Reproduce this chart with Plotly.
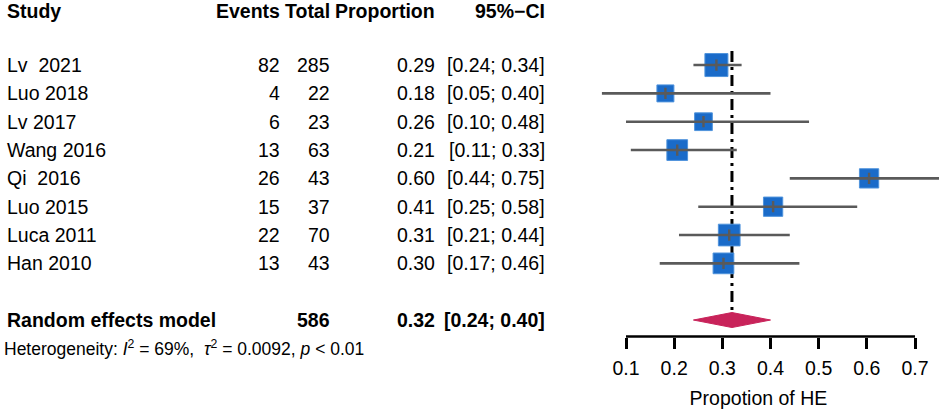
import plotly.graph_objects as go

# study data
studies = ["Lv\u00a0 2021", "Luo 2018", "Lv 2017", "Wang 2016", "Qi\u00a0 2016",
           "Luo 2015", "Luca 2011", "Han 2010"]
events = [82, 4, 6, 13, 26, 15, 22, 13]
totals = [285, 22, 23, 63, 43, 37, 70, 43]
props = [0.29, 0.18, 0.26, 0.21, 0.60, 0.41, 0.31, 0.30]
lower = [0.24, 0.05, 0.10, 0.11, 0.44, 0.25, 0.21, 0.17]
upper = [0.34, 0.40, 0.48, 0.33, 0.75, 0.58, 0.44, 0.46]
weights = [16.5, 9.0, 9.8, 13.4, 11.6, 11.6, 14.7, 13.4]  # % random-effects weight

pooled = 0.32
pooled_lower = 0.24
pooled_upper = 0.40
pooled_total = 586
heterogeneity = "Heterogeneity: <i>I</i><sup>2</sup> = 69%,\u00a0 <i>\u03c4</i><sup>2</sup> = 0.0092, <i>p</i> < 0.01"

tick_vals = [0.1, 0.2, 0.3, 0.4, 0.5, 0.6, 0.7]
x_title = "Propotion of HE"

# layout in pixels
W, H = 941, 409
X01, X07 = 626, 915           # pixel of 0.1 and 0.7
ppu = (X07 - X01) / 0.6
xr = [0.0, 0.75]
dom = [(X01 + (xr[0] - 0.1) * ppu) / W, (X01 + (xr[1] - 0.1) * ppu) / W]

ROW0, ROWH = 8.4, 28.33       # pixel centre of row 0 and row height
yr = [(H - ROW0) / ROWH, -ROW0 / ROWH]
axis_px = 336.5
axis_pos = 1 - axis_px / H

head_row = 0.1
rows = [2 + i for i in range(len(studies))]
sum_row = 11
het_row = 12

FONT = "Arial, Liberation Sans, sans-serif"
FS = 19.5

# column right edges (px)
col_study = 5
col_events = 282
col_total = 331.5
col_prop = 437
col_ci = 547

est = [e / t for e, t in zip(events, totals)]

fig = go.Figure()

# reference line at the pooled estimate
fig.add_trace(go.Scatter(
    x=[pooled, pooled], y=[1.5, sum_row], mode="lines",
    line=dict(color="black", width=3, dash="11px,5px,3px,5px"),
    hoverinfo="skip", showlegend=False))

# study squares
fig.add_trace(go.Scatter(
    x=est, y=rows, mode="markers",
    marker=dict(symbol="square", size=[5.66 * w ** 0.5 for w in weights], opacity=1,
                color="#1a6bc9", line=dict(color="#4f93dc", width=1)),
    showlegend=False))

# confidence intervals
ci_x, ci_y = [], []
for lo, hi, r in zip(lower, upper, rows):
    ci_x += [lo, hi, None]
    ci_y += [r, r, None]
fig.add_trace(go.Scatter(
    x=ci_x, y=ci_y, mode="lines", line=dict(color="#5a5a5a", width=2.6),
    hoverinfo="skip", showlegend=False))

# small tick at point estimate
fig.add_trace(go.Scatter(
    x=est, y=rows, mode="markers",
    marker=dict(symbol="line-ns", size=8, opacity=1, line=dict(color="#5a5a5a", width=2.4)),
    hoverinfo="skip", showlegend=False))

# pooled diamond
half = 7.5 / ROWH
fig.add_trace(go.Scatter(
    x=[pooled_lower, pooled, pooled_upper, pooled, pooled_lower],
    y=[sum_row, sum_row - half, sum_row, sum_row + half, sum_row],
    mode="lines", fill="toself", fillcolor="#c8235a",
    line=dict(color="#c8235a", width=1), hoverinfo="skip", showlegend=False))

ann = []


def txt(x, row, text, anchor="right", bold=False, size=FS):
    ann.append(dict(
        x=x / W, xref="paper", y=row, yref="y", text="<b>%s</b>" % text if bold else text,
        xanchor=anchor, yanchor="middle", showarrow=False,
        font=dict(family=FONT, size=size, color="black")))


# header
txt(col_study, head_row, "Study", "left", True)
txt(col_events, head_row, "Events", bold=True)
txt(col_total, head_row, "Total", bold=True)
txt(col_prop, head_row, "Proportion", bold=True)
txt(col_ci, head_row, "95%\u2212CI", bold=True)

for s, e, t, p, lo, hi, r in zip(studies, events, totals, props, lower, upper, rows):
    txt(col_study, r, s, "left")
    txt(col_events, r, str(e))
    txt(col_total, r, str(t))
    txt(col_prop, r, "%.2f" % p)
    txt(col_ci, r, "[%.2f; %.2f]" % (lo, hi))

txt(col_study, sum_row, "Random effects model", "left", True)
txt(col_total, sum_row, str(pooled_total), bold=True)
txt(col_prop, sum_row, "%.2f" % pooled, bold=True)
txt(col_ci, sum_row, "[%.2f; %.2f]" % (pooled_lower, pooled_upper), bold=True)
txt(col_study - 3, het_row, heterogeneity, "left", size=17.5)

fig.update_layout(
    width=W, height=H, margin=dict(l=0, r=0, t=0, b=0),
    plot_bgcolor="white", paper_bgcolor="white",
    font=dict(family=FONT, size=FS, color="black"),
    annotations=ann,
    shapes=[dict(type="line", xref="x", yref="paper", x0=tick_vals[0], x1=tick_vals[-1],
                 y0=axis_pos, y1=axis_pos, line=dict(color="black", width=2.5))],
    xaxis=dict(domain=dom, range=xr, anchor="free", position=axis_pos,
               showgrid=False, zeroline=False, showline=False,
               tickvals=tick_vals, ticktext=["%.1f" % v for v in tick_vals],
               ticks="outside", ticklen=11, tickwidth=2.5, tickcolor="black",
               ticklabelstandoff=3,
               tickfont=dict(family=FONT, size=FS),
               title=dict(text=x_title, standoff=15, font=dict(family=FONT, size=FS))),
    yaxis=dict(domain=[0, 1], range=yr, visible=False),
)

fig.write_html("out.html", config=dict(displayModeBar=False),
               post_script="document.body.style.margin='0';")
